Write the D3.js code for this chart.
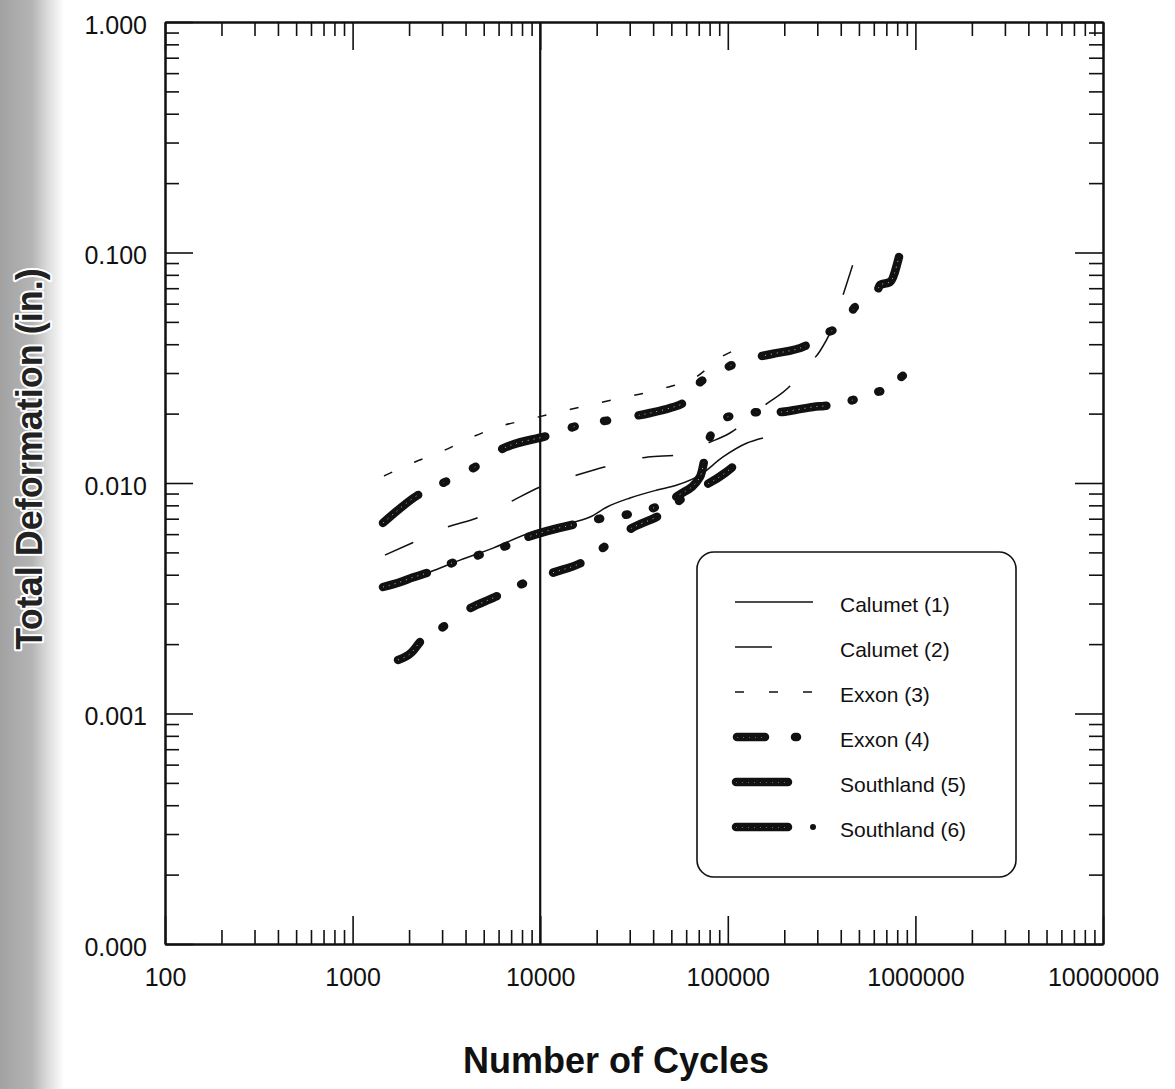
<!DOCTYPE html>
<html>
<head>
<meta charset="utf-8">
<script src="https://cdn.jsdelivr.net/npm/d3@7"></script>
<style>
  html, body { margin: 0; padding: 0; background: #fff; }
  svg { display: block; }
</style>
</head>
<body>
<svg id="chart" width="1175" height="1089"></svg>
<script>
// ---- data: total deformation (in.) against number of load cycles ----
const seriesNames = ["Calumet (1)", "Calumet (2)", "Exxon (3)", "Exxon (4)", "Southland (5)", "Southland (6)"];

const xTickValues = [100, 1000, 10000, 100000, 1000000, 10000000];
const xTickLabels = ["100", "1000", "10000", "100000", "1000000", "10000000"];
const yTickValues = [0.0001, 0.001, 0.01, 0.1, 1];
const yTickLabels = ["0.000", "0.001", "0.010", "0.100", "1.000"];
const referenceCycles = 10000;

// [cycles, deformation]
const calumet1 = [
  [1452, 0.00350], [2586, 0.00411], [3737, 0.00463], [5603, 0.00522], [8503, 0.00601],
  [12750, 0.00657], [18430, 0.00712], [22710, 0.00787], [30110, 0.00861], [41940, 0.00932],
  [53610, 0.00980], [71090, 0.01083], [94280, 0.01297], [126600, 0.01491], [154000, 0.01568]
];
const calumet2 = [
  [1488, 0.00487], [2073, 0.00549], [3185, 0.00644], [4604, 0.00705], [6902, 0.00827],
  [9975, 0.00961], [15710, 0.01083], [24130, 0.01197], [37550, 0.01297], [54270, 0.01323],
  [78430, 0.01491], [102700, 0.01648], [157900, 0.02180], [214600, 0.02635], [254800, 0.03124],
  [310100, 0.03739], [363800, 0.04798], [416400, 0.06741], [470700, 0.09186]
];
const exxon3 = [
  [1470, 0.01073], [2150, 0.01233], [3030, 0.01377], [4225, 0.01567], [5960, 0.01750],
  [8830, 0.01895], [13230, 0.02053], [20330, 0.02223], [30480, 0.02384], [46250, 0.02584],
  [67700, 0.02884], [94200, 0.03560], [129700, 0.03930]
];
const exxon4 = [
  [1452, 0.00671], [2232, 0.00887], [3108, 0.01010], [4493, 0.01173], [6106, 0.01390],
  [11280, 0.01615], [16300, 0.01785], [25980, 0.01895], [38480, 0.02012], [49190, 0.02115],
  [57700, 0.02223], [66880, 0.02609], [88660, 0.03030], [128200, 0.03450], [172000, 0.03628],
  [257900, 0.03930], [306300, 0.04342], [411300, 0.04896], [494300, 0.05978], [572800, 0.06220],
  [624300, 0.06741], [647600, 0.07228], [732000, 0.07447], [817700, 0.09560]
];
const southland5 = [
  [1452, 0.003538], [1784, 0.003713], [2088, 0.003890], [2586, 0.004111], [3388, 0.004497],
  [4719, 0.004870], [6572, 0.005330], [8610, 0.005831], [17330, 0.006773], [22990, 0.007119],
  [32400, 0.007411], [45130, 0.008107], [54940, 0.008869], [71090, 0.010620], [78430, 0.014910],
  [90860, 0.018580], [116100, 0.019920], [154000, 0.020320], [189800, 0.020320], [228100, 0.020730],
  [284600, 0.021370], [325700, 0.021580], [372700, 0.021800], [465000, 0.022910], [594300, 0.024580],
  [732000, 0.025840], [807600, 0.027980], [936000, 0.030300], [1125000, 0.030600]
];
const southland6 = [
  [1746, 0.001707], [2073, 0.001848], [2287, 0.002043], [3033, 0.002373], [4072, 0.002812],
  [5741, 0.003201], [7998, 0.003646], [11560, 0.004069], [16910, 0.004544], [22710, 0.005383],
  [30850, 0.006380], [43510, 0.007264], [57700, 0.008606], [96630, 0.011050], [117600, 0.012590]
];

// ---- layout ----
const W = 1175, H = 1089;
const ink = "#111";
const svg = d3.select("#chart");
const defs = svg.append("defs");

const x = d3.scaleLog().domain([100, 10000000]).range([165, 1103]);
const y = d3.scaleLog().domain([0.0001, 1]).range([944, 22]);

// grey shading along the left page edge
const edge = defs.append("linearGradient").attr("id", "pageEdge").attr("x1", 0).attr("x2", 1).attr("y1", 0).attr("y2", 0);
[[0, "#a2a2a2"], [0.5, "#b4b4b4"], [0.75, "#dcdcdc"], [1, "#ffffff"]].forEach(([o, c]) =>
  edge.append("stop").attr("offset", o).attr("stop-color", c));
svg.append("rect").attr("x", 0).attr("y", 0).attr("width", 64).attr("height", H).attr("fill", "url(#pageEdge)");

// ---- axes: inward ticks on all four sides ----
function minorTicks(lo, hi) {
  const out = [];
  const e0 = Math.round(Math.log10(lo)), e1 = Math.round(Math.log10(hi));
  for (let e = e0; e < e1; e++) for (let m = 2; m <= 9; m++) out.push(m * Math.pow(10, e));
  return out;
}
const xMinor = minorTicks(100, 10000000);
const yMinor = minorTicks(0.0001, 1);
const fontFamily = "'Liberation Sans', Arial, Helvetica, sans-serif";

function styleAxis(g) {
  g.select(".domain").attr("stroke", ink).attr("stroke-width", 2);
  g.selectAll(".tick line").attr("stroke", ink).attr("stroke-width", 1.6);
  g.selectAll(".tick text").attr("font-family", fontFamily).attr("font-size", 25).attr("fill", ink);
}

const axes = svg.append("g");
// bottom
axes.append("g").attr("transform", `translate(0,${y(0.0001)})`)
  .call(d3.axisBottom(x).tickValues(xMinor).tickFormat("").tickSizeInner(-14).tickSizeOuter(0)).call(styleAxis);
axes.append("g").attr("transform", `translate(0,${y(0.0001)})`)
  .call(d3.axisBottom(x).tickValues(xTickValues).tickFormat((d, i) => xTickLabels[i]).tickSizeInner(-28).tickSizeOuter(0).tickPadding(24))
  .call(styleAxis);
// top
axes.append("g").attr("transform", `translate(0,${y(1)})`)
  .call(d3.axisTop(x).tickValues(xMinor).tickFormat("").tickSizeInner(-14).tickSizeOuter(0)).call(styleAxis);
axes.append("g").attr("transform", `translate(0,${y(1)})`)
  .call(d3.axisTop(x).tickValues(xTickValues).tickFormat("").tickSizeInner(-28).tickSizeOuter(0)).call(styleAxis);
// left
axes.append("g").attr("transform", `translate(${x(100)},0)`)
  .call(d3.axisLeft(y).tickValues(yMinor).tickFormat("").tickSizeInner(-14).tickSizeOuter(0)).call(styleAxis);
axes.append("g").attr("transform", `translate(${x(100)},0)`)
  .call(d3.axisLeft(y).tickValues(yTickValues).tickFormat((d, i) => yTickLabels[i]).tickSizeInner(-28).tickSizeOuter(0).tickPadding(18))
  .call(styleAxis)
  .call(g => g.selectAll(".tick text").attr("dy", "0.44em"));
// right
axes.append("g").attr("transform", `translate(${x(10000000)},0)`)
  .call(d3.axisRight(y).tickValues(yMinor).tickFormat("").tickSizeInner(-14).tickSizeOuter(0)).call(styleAxis);
axes.append("g").attr("transform", `translate(${x(10000000)},0)`)
  .call(d3.axisRight(y).tickValues(yTickValues).tickFormat("").tickSizeInner(-28).tickSizeOuter(0)).call(styleAxis);

// vertical reference line at 10,000 cycles
svg.append("line")
  .attr("x1", x(referenceCycles)).attr("x2", x(referenceCycles))
  .attr("y1", y(1)).attr("y2", y(0.0001))
  .attr("stroke", ink).attr("stroke-width", 2.2);

// ---- series ----
const line = d3.line().x(d => x(d[0])).y(d => y(d[1])).curve(d3.curveMonotoneX);
const plot = svg.append("g");

const seriesStyle = {
  "Calumet (1)":   { kind: "thin",  dash: null },
  "Calumet (2)":   { kind: "thin",  dash: "31,38" },
  "Exxon (3)":     { kind: "thin",  dash: "9,24" },
  "Exxon (4)":     { kind: "thick", dash: "45,28,3,30,3,32" },
  "Southland (5)": { kind: "thick", dash: "46,26,2,26,2,26,2,24" },
  "Southland (6)": { kind: "thick", dash: "29,27,2,32" }
};
const seriesData = {
  "Calumet (1)": calumet1, "Calumet (2)": calumet2, "Exxon (3)": exxon3,
  "Exxon (4)": exxon4, "Southland (5)": southland5, "Southland (6)": southland6
};

let maskId = 0;
function thinStroke(sel, d, dash) {
  sel.append("path").attr("d", d).attr("fill", "none")
    .attr("stroke", ink).attr("stroke-width", 1.5)
    .attr("stroke-linejoin", "round")
    .attr("stroke-dasharray", dash);
}
// heavy line with a faint speckled core, as printed
function thickStroke(sel, d, dash) {
  const id = "core" + (maskId++);
  defs.append("mask").attr("id", id).attr("maskUnits", "userSpaceOnUse")
    .attr("x", 0).attr("y", 0).attr("width", W).attr("height", H)
    .append("path").attr("d", d).attr("fill", "none")
    .attr("stroke", "#fff").attr("stroke-width", 2).attr("stroke-dasharray", dash);
  sel.append("path").attr("d", d).attr("fill", "none")
    .attr("stroke", ink).attr("stroke-width", 8.5)
    .attr("stroke-linecap", "round").attr("stroke-linejoin", "round")
    .attr("stroke-dasharray", dash);
  sel.append("path").attr("d", d).attr("fill", "none")
    .attr("stroke", "#fff").attr("stroke-width", 1)
    .attr("stroke-opacity", 0.75)
    .attr("stroke-dasharray", "1,5")
    .attr("mask", `url(#${id})`);
}

seriesNames.forEach(name => {
  const st = seriesStyle[name];
  if (st.kind === "thin") thinStroke(plot, line(seriesData[name]), st.dash);
});
seriesNames.forEach(name => {
  const st = seriesStyle[name];
  if (st.kind === "thick") thickStroke(plot, line(seriesData[name]), st.dash);
});

// ---- legend ----
const legend = svg.append("g").attr("transform", "translate(697,552)");
legend.append("rect").attr("width", 319).attr("height", 325).attr("rx", 17).attr("ry", 17)
  .attr("fill", "#fff").attr("stroke", ink).attr("stroke-width", 1.6);

const legendGlyph = {
  "Calumet (1)":   { kind: "thin",  x0: 38, x1: 116, dash: null },
  "Calumet (2)":   { kind: "thin",  x0: 38, x1: 75,  dash: null },
  "Exxon (3)":     { kind: "thin",  x0: 38, x1: 116, dash: "9,25" },
  "Exxon (4)":     { kind: "thick", x0: 40, x1: 104, dash: "28,30,2,40" },
  "Southland (5)": { kind: "thick", x0: 39, x1: 91,  dash: null },
  "Southland (6)": { kind: "thick", x0: 39, x1: 91,  dash: null, dot: 116 }
};
seriesNames.forEach((name, i) => {
  const row = legend.append("g").attr("transform", `translate(0,${50 + i * 45})`);
  const gl = legendGlyph[name];
  const d = `M${gl.x0},0L${gl.x1},0`;
  if (gl.kind === "thin") thinStroke(row, d, gl.dash);
  else thickStroke(row, d, gl.dash);
  if (gl.dot) row.append("circle").attr("cx", gl.dot).attr("cy", 0).attr("r", 3).attr("fill", ink);
  row.append("text").attr("x", 143).attr("y", 9.5)
    .attr("font-family", fontFamily).attr("font-size", 21).attr("fill", ink)
    .text(name);
});

// ---- axis titles ----
svg.append("text")
  .attr("x", 616).attr("y", 1073)
  .attr("text-anchor", "middle")
  .attr("font-family", fontFamily).attr("font-weight", "bold").attr("font-size", 36)
  .attr("fill", ink)
  .text("Number of Cycles");

svg.append("text")
  .attr("transform", "translate(42,459) rotate(-90)")
  .attr("text-anchor", "middle")
  .attr("font-family", fontFamily).attr("font-weight", "bold").attr("font-size", 36)
  .attr("fill", "#222").attr("stroke", "#fff").attr("stroke-width", 4)
  .attr("paint-order", "stroke").attr("stroke-linejoin", "round")
  .text("Total Deformation (in.)");
</script>
</body>
</html>
